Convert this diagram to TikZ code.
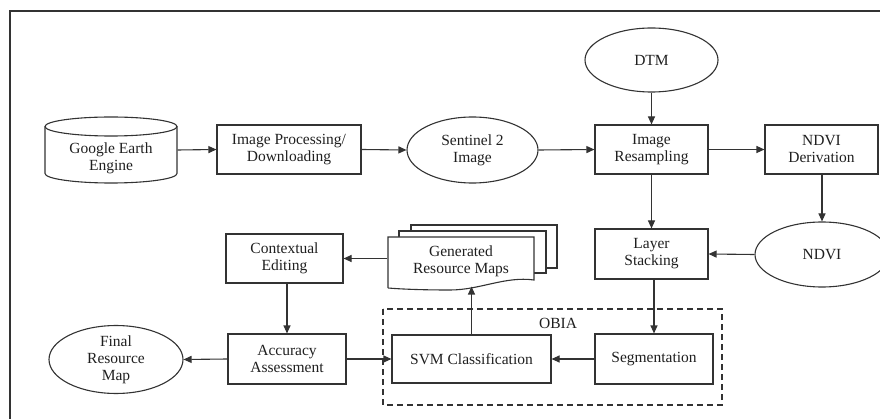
\documentclass[tikz,border=0pt]{standalone}
\usepackage{fontspec}
\setmainfont{Liberation Serif}
\usetikzlibrary{shapes.geometric,arrows.meta}
\begin{document}
\begin{tikzpicture}[x=1pt,y=-1pt,
  line width=1.1pt,
  every node/.style={text=black!88},
  txt/.style={font=\fontsize{15.5}{17}\selectfont, align=center, inner sep=0pt},
  stepbox/.style={txt, draw=black!80, rectangle, minimum width=#1},
  stepbox/.default=113pt,
  oval/.style={txt, draw=black!80, ellipse, minimum width=133pt, minimum height=65pt},
  arr/.style={draw=black!80, -{Triangle[length=8pt,width=7pt]}}
]
\useasboundingbox (0,0) rectangle (880,419);
\begin{scope}
\clip (0,0) rectangle (880,419);
% outer frame
\draw[black!80] (10,11) rectangle (900,440);

% Google Earth Engine cylinder
\draw[black!80] (45,126.5) -- (45,173.5) arc[start angle=180, end angle=360, x radius=66pt, y radius=9.5pt] -- (177,126.5);
\draw[black!80] (111,126.5) ellipse [x radius=66pt, y radius=9.5pt];
\node[txt, minimum width=132pt, minimum height=66pt] (gee) at (111,150) {};
\node[txt] (geetext) at (111,158) {Google Earth\\Engine};

\node[stepbox=144pt, minimum height=49pt] (proc) at (289,149.5) {Image Processing/\\Downloading};
\node[oval, minimum width=131pt, minimum height=66pt] (sent) at (472.5,150) {Sentinel 2\\Image};
\node[oval, minimum height=64pt] (dtm) at (651.5,60) {DTM};
\node[stepbox, minimum height=49pt] (resamp) at (651.5,149.5) {Image\\Resampling};
\node[stepbox, minimum height=49pt] (ndvid) at (821.5,149.5) {NDVI\\Derivation};
\node[stepbox, minimum height=50pt] (layer) at (651.5,254) {Layer\\Stacking};
\node[oval, minimum width=134pt] (ndvi) at (822,254.5) {NDVI};

% OBIA dashed box
\draw[black!80, dashed, dash pattern=on 6pt off 4pt] (383,309) rectangle (722,405);
\node[txt] (obia) at (558,323) {OBIA};

\node[stepbox=118pt, minimum height=50pt] (seg) at (654,359) {Segmentation};
\node[stepbox=159pt, minimum height=48pt] (svm) at (471.5,359) {SVM Classification};
\node[stepbox=118pt, minimum height=50pt] (acc) at (287,359) {Accuracy\\Assessment};
\node[oval, minimum width=134pt] (final) at (116,359.5) {Final\\Resource\\Map};
\node[stepbox=117pt, minimum height=49pt] (ctx) at (284.5,258.5) {Contextual\\Editing};

% Generated Resource Maps (multi-document)
\draw[black!80, fill=white] (411,225) rectangle (557,268);
\draw[black!80, fill=white] (399,231) rectangle (546,273);
\draw[black!80, fill=white] (388,288) -- (388,237) -- (534,237) -- (534,280)
  .. controls (505,276) and (480,290) .. (450,290)
  .. controls (420,290) and (400,289) .. (388,288);
\node[txt, minimum width=146pt, minimum height=49pt] (maps) at (461,261.5) {Generated\\Resource Maps};

% connectors
\draw[arr] (gee.east) -- (proc.west);
\draw[arr] (proc.east) -- (sent.west);
\draw[arr] (sent.east) -- (resamp.west);
\draw[arr] (dtm.south) -- (resamp.north);
\draw[arr] (resamp.east) -- (ndvid.west);
\draw[arr] (resamp.south) -- (layer.north);
\draw[arr] (ndvid.south -| ndvi.north) -- (ndvi.north);
\draw[arr] (ndvi.west) -- (layer.east);
\draw[arr] (layer.south -| seg.north) -- (seg.north);
\draw[arr] (seg.west) -- (svm.east);
\draw[arr] (svm.north) -- (svm.north |- maps.south);
\draw[arr] (ctx.east -| maps.west) -- (ctx.east);
\draw[arr] (ctx.south -| acc.north) -- (acc.north);
\draw[arr] (acc.east) -- (svm.west);
\draw[arr] (acc.west) -- (final.east);
\end{scope}
\end{tikzpicture}
\end{document}
